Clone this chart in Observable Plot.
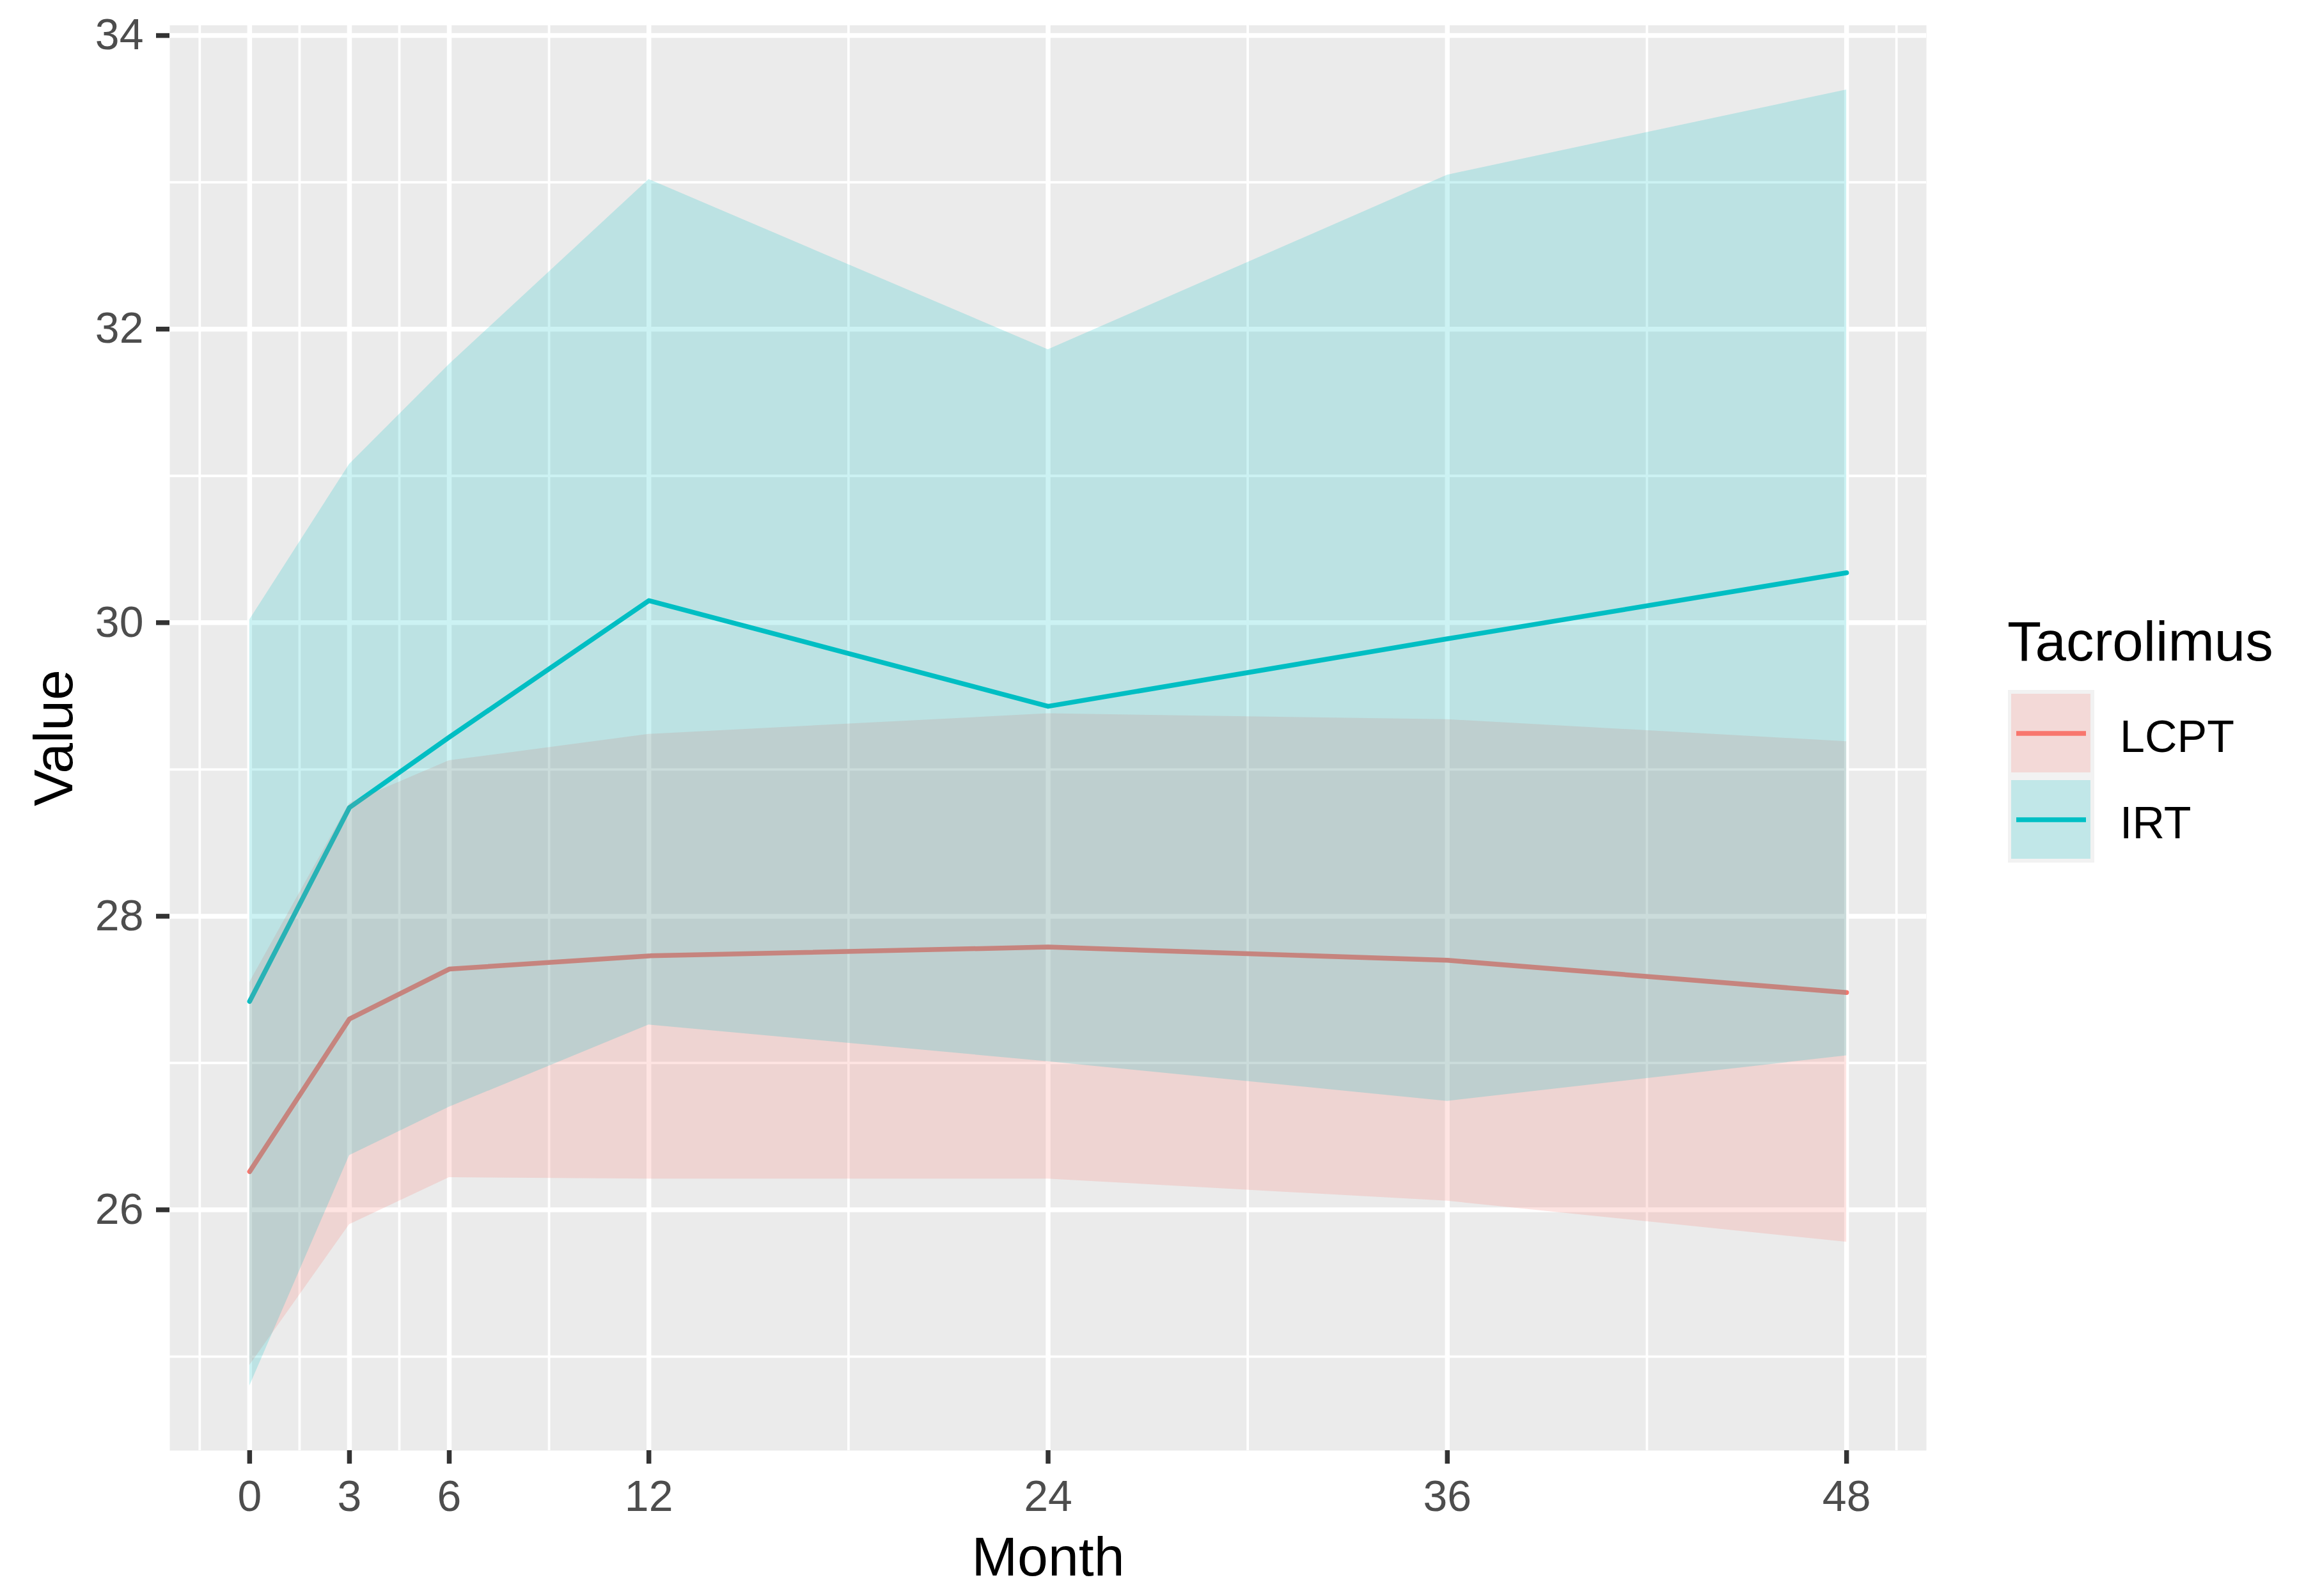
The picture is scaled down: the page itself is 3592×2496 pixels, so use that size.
<!DOCTYPE html>
<html>
<head>
<meta charset="utf-8">
<script src="https://cdn.jsdelivr.net/npm/d3@7"></script>
<script src="https://cdn.jsdelivr.net/npm/@observablehq/plot@0.6"></script>
<style>
  html, body { margin: 0; padding: 0; background: white; }
  #wrap { position: relative; width: 3592px; height: 2496px; }
  #legend { position: absolute; left: 0; top: 0; }
</style>
</head>
<body>
<div id="wrap"></div>
<script>
// ---- data ----
const months = [0, 3, 6, 12, 24, 36, 48];
const groups = ["LCPT", "IRT"];
const groupColors = ["#F8766D", "#00BFC4"];
const lcptMean  = [26.26, 27.30, 27.64, 27.73, 27.79, 27.70, 27.48];
const lcptLower = [24.94, 25.90, 26.22, 26.21, 26.21, 26.06, 25.78];
const lcptUpper = [27.55, 28.77, 29.06, 29.24, 29.38, 29.34, 29.19];
const irtMean   = [27.42, 28.74, 29.22, 30.15, 29.43, 29.89, 30.34];
const irtLower  = [24.80, 26.37, 26.70, 27.26, 27.01, 26.74, 27.05];
const irtUpper  = [30.02, 31.08, 31.76, 33.02, 31.86, 33.05, 33.63];
const xTicks = [0, 3, 6, 12, 24, 36, 48];
const xMinor = [-1.5, 1.5, 4.5, 9, 18, 30, 42, 49.5];
const yTicks = [26, 28, 30, 32, 34];
const yMinor = [25, 27, 29, 31, 33];
const legendTitle = "Tacrolimus";
const xLabel = "Month";
const yLabel = "Value";

const rows = [];
months.forEach((m, i) => {
  rows.push({group: "LCPT", month: m, mean: lcptMean[i], lo: lcptLower[i], hi: lcptUpper[i]});
});
months.forEach((m, i) => {
  rows.push({group: "IRT", month: m, mean: irtMean[i], lo: irtLower[i], hi: irtUpper[i]});
});

const W = 3592, H = 2496;
const font = "'Liberation Sans', Arial, Helvetica, sans-serif";
const majorW = 7.5, minorW = 3.8;

const chart = Plot.plot({
  width: W,
  height: H,
  marginLeft: 265,
  marginRight: 580,
  marginTop: 39,
  marginBottom: 228,
  style: {fontFamily: font, background: "white", overflow: "visible"},
  x: {domain: [-2.4, 50.4], label: null},
  y: {domain: [24.36, 34.07], label: null},
  color: {domain: groups, range: groupColors},
  marks: [
    Plot.frame({fill: "#EBEBEB", stroke: null}),
    Plot.ruleY(yMinor, {stroke: "white", strokeWidth: minorW}),
    Plot.ruleX(xMinor, {stroke: "white", strokeWidth: minorW}),
    Plot.ruleY(yTicks, {stroke: "white", strokeWidth: majorW}),
    Plot.ruleX(xTicks, {stroke: "white", strokeWidth: majorW}),
    Plot.line(rows, {x: "month", y: "mean", z: "group", stroke: "group", strokeWidth: majorW}),
    Plot.areaY(rows, {x: "month", y1: "lo", y2: "hi", z: "group", fill: "group", fillOpacity: 0.2}),
    Plot.axisX({ticks: xTicks, tickSize: 21, tickPadding: 25, fontSize: 68,
      stroke: "#333333", strokeWidth: majorW, fill: "#4D4D4D", label: null}),
    Plot.axisY({ticks: yTicks, tickSize: 21, tickPadding: 20, fontSize: 68,
      stroke: "#333333", strokeWidth: majorW, fill: "#4D4D4D", label: null}),
    Plot.text([xLabel], {frameAnchor: "bottom", textAnchor: "middle", lineAnchor: "middle",
      dy: 168, fontSize: 86, fill: "black"}),
    Plot.text([yLabel], {frameAnchor: "left", textAnchor: "middle", lineAnchor: "middle",
      dx: -180, rotate: -90, fontSize: 86, fill: "black"})
  ]
});
document.getElementById("wrap").appendChild(chart);

// ---- legend (overlay) ----
const leg = d3.select("#wrap").append("svg")
  .attr("id", "legend")
  .attr("width", W).attr("height", H)
  .style("font-family", font);
leg.append("text").attr("x", 3139).attr("y", 1033)
  .attr("font-size", 87).attr("fill", "black").text(legendTitle);
leg.append("rect").attr("x", 3140).attr("y", 1079).attr("width", 135).attr("height", 270)
  .attr("fill", "#F2F2F2");
groups.forEach((g, i) => {
  const y0 = 1085 + i * 135;
  leg.append("rect").attr("x", 3145).attr("y", y0).attr("width", 124).attr("height", 123)
    .attr("fill", groupColors[i]).attr("fill-opacity", 0.2);
  leg.append("line").attr("x1", 3153).attr("x2", 3262)
    .attr("y1", y0 + 62).attr("y2", y0 + 62)
    .attr("stroke", groupColors[i]).attr("stroke-width", 7.5);
  leg.append("text").attr("x", 3315).attr("y", y0 + 91)
    .attr("font-size", 70).attr("fill", "black").text(g);
});
</script>
</body>
</html>
